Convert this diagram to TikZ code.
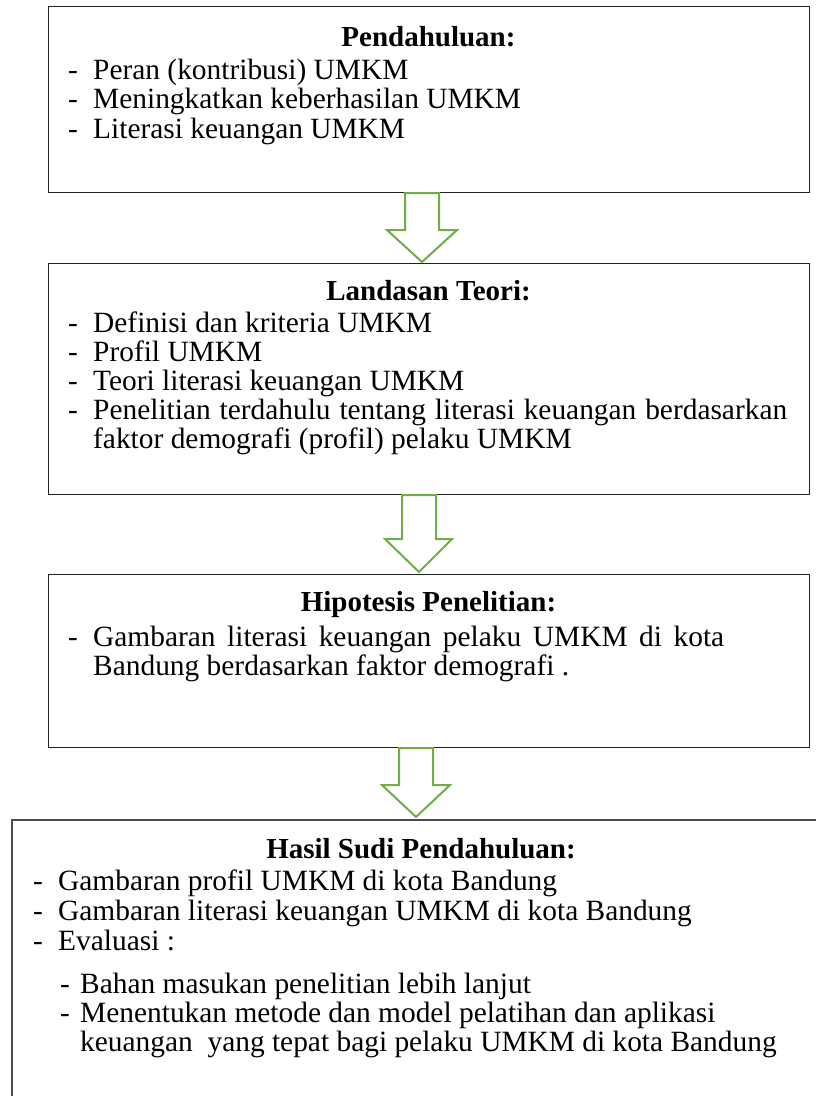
\documentclass[tikz,border=0pt]{standalone}
\usepackage{fontspec}
\setmainfont{Liberation Serif}
\usetikzlibrary{calc}
\definecolor{arrowgreen}{HTML}{70AD47}
\definecolor{boxline}{HTML}{222222}
\begin{document}
\begin{tikzpicture}[x=1pt,y=-1pt,
  box/.style={draw=boxline,line width=1.4pt,rectangle,anchor=north west,inner sep=0pt},
  ttl/.style={anchor=base,inner sep=0pt,font=\fontsize{29}{29.5}\selectfont\bfseries},
  txt/.style={anchor=base west,inner sep=0pt,font=\fontsize{29.4}{29.5}\selectfont},
  blockarrow/.style={draw=arrowgreen,line width=2pt,fill=white,line join=miter}]
\useasboundingbox (0,0) rectangle (816,1096);
\clip (0,0) rectangle (816,1096);
\fill[white] (0,0) rectangle (816,1096);
\newcommand\itm[1]{\makebox[25pt][l]{-}#1}
% boxes
\node[box,minimum width=761pt,minimum height=186pt] (b1) at (48,6) {};
\node[box,minimum width=761pt,minimum height=231pt] (b2) at (48,263) {};
\node[box,minimum width=761pt,minimum height=173pt] (b3) at (48,574) {};
\node[box,draw=black!70,line width=1.8pt,minimum width=820pt,minimum height=300pt] (b4) at (11,819) {};
% arrows
\draw[blockarrow] (405,193) -- (439,193) -- (439,230) -- (457,230) -- (422,262) -- (387,230) -- (405,230) -- cycle;
\draw[blockarrow] (402,495) -- (436,495) -- (436,539) -- (452,539) -- (419,572) -- (385,539) -- (402,539) -- cycle;
\draw[blockarrow] (399,748) -- (433,748) -- (433,785) -- (450,785) -- (416,817) -- (382,785) -- (399,785) -- cycle;
% box 1
\node[ttl] (t1) at (428.5,46) {Pendahuluan:};
\node[txt] (l11) at (68,79) {\itm{Peran (kontribusi) UMKM}};
\node[txt] (l12) at (68,108.5) {\itm{Meningkatkan keberhasilan UMKM}};
\node[txt] (l13) at (68,138) {\itm{Literasi keuangan UMKM}};
% box 2
\node[ttl] (t2) at (428.5,300) {Landasan Teori:};
\node[txt] (l21) at (68,332) {\itm{Definisi dan kriteria UMKM}};
\node[txt] (l22) at (68,361) {\itm{Profil UMKM}};
\node[txt] (l23) at (68,390) {\itm{Teori literasi keuangan UMKM}};
\node[txt] (l24) at (68,419) {\itm{\makebox[694pt][s]{Penelitian terdahulu tentang literasi keuangan berdasarkan}}};
\node[txt] (l25) at (93,448) {faktor demografi (profil) pelaku UMKM};
% box 3
\node[ttl] (t3) at (428.5,611) {Hipotesis Penelitian:};
\node[txt] (l31) at (68,646) {\itm{\makebox[631pt][s]{Gambaran literasi keuangan pelaku UMKM di kota}}};
\node[txt] (l32) at (93,675) {Bandung berdasarkan faktor demografi .};
% box 4
\node[ttl] (t4) at (421,858) {Hasil Sudi Pendahuluan:};
\node[txt] (l41) at (33,890) {\itm{Gambaran profil UMKM di kota Bandung}};
\node[txt] (l42) at (33,920) {\itm{Gambaran literasi keuangan UMKM di kota Bandung}};
\node[txt] (l43) at (33,950) {\itm{Evaluasi :}};
\node[txt] (l44) at (60,993) {\makebox[20pt][l]{-}Bahan masukan penelitian lebih lanjut};
\node[txt] (l45) at (60,1022) {\makebox[20pt][l]{-}Menentukan metode dan model pelatihan dan aplikasi};
\node[txt] (l46) at (80,1051) {keuangan\ \ yang tepat bagi pelaku UMKM di kota Bandung};
\end{tikzpicture}
\end{document}
